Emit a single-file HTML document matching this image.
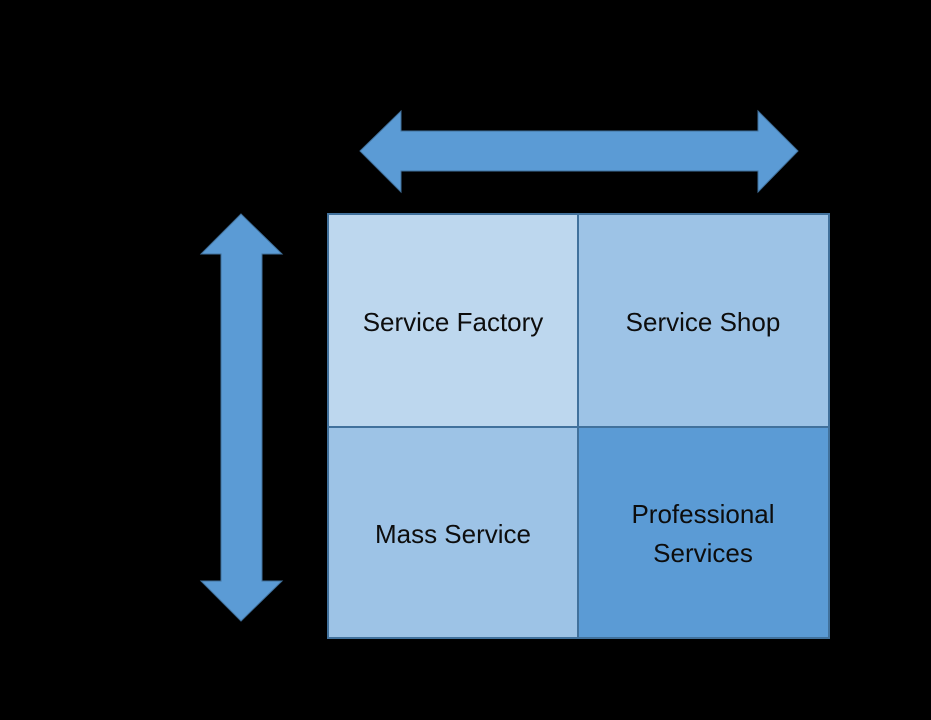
<!DOCTYPE html>
<html><head><meta charset="utf-8"><style>
html,body{margin:0;padding:0;background:#000;}
body{width:931px;height:720px;overflow:hidden;}
</style></head><body>
<svg width="931" height="720" xmlns="http://www.w3.org/2000/svg" style="display:block">
<rect width="931" height="720" fill="#000"/>
<polygon points="360,151 401,111 401,131 758,131 758,111 798,151 758,192 758,171 401,171 401,192" fill="#5b9bd5" stroke="#41719c" stroke-width="1"/>
<polygon points="241,214 282,254 262,254 262,581 282,581 241,621 201,581 221,581 221,254 201,254" fill="#5b9bd5" stroke="#41719c" stroke-width="1"/>
<rect x="328" y="214" width="250" height="213" fill="#bdd7ee" stroke="#41719c" stroke-width="2"/>
<rect x="578" y="214" width="251" height="213" fill="#9dc3e6" stroke="#41719c" stroke-width="2"/>
<rect x="328" y="427" width="250" height="211" fill="#9dc3e6" stroke="#41719c" stroke-width="2"/>
<rect x="578" y="427" width="251" height="211" fill="#5b9bd5" stroke="#41719c" stroke-width="2"/>
<g font-family="Liberation Sans, sans-serif" font-size="26" fill="#0d0d0d" text-anchor="middle">
<text x="453" y="331">Service Factory</text>
<text x="703" y="331">Service Shop</text>
<text x="453" y="543">Mass Service</text>
<text x="703" y="523">Professional</text>
<text x="703" y="562">Services</text>
</g>
</svg>
</body></html>
